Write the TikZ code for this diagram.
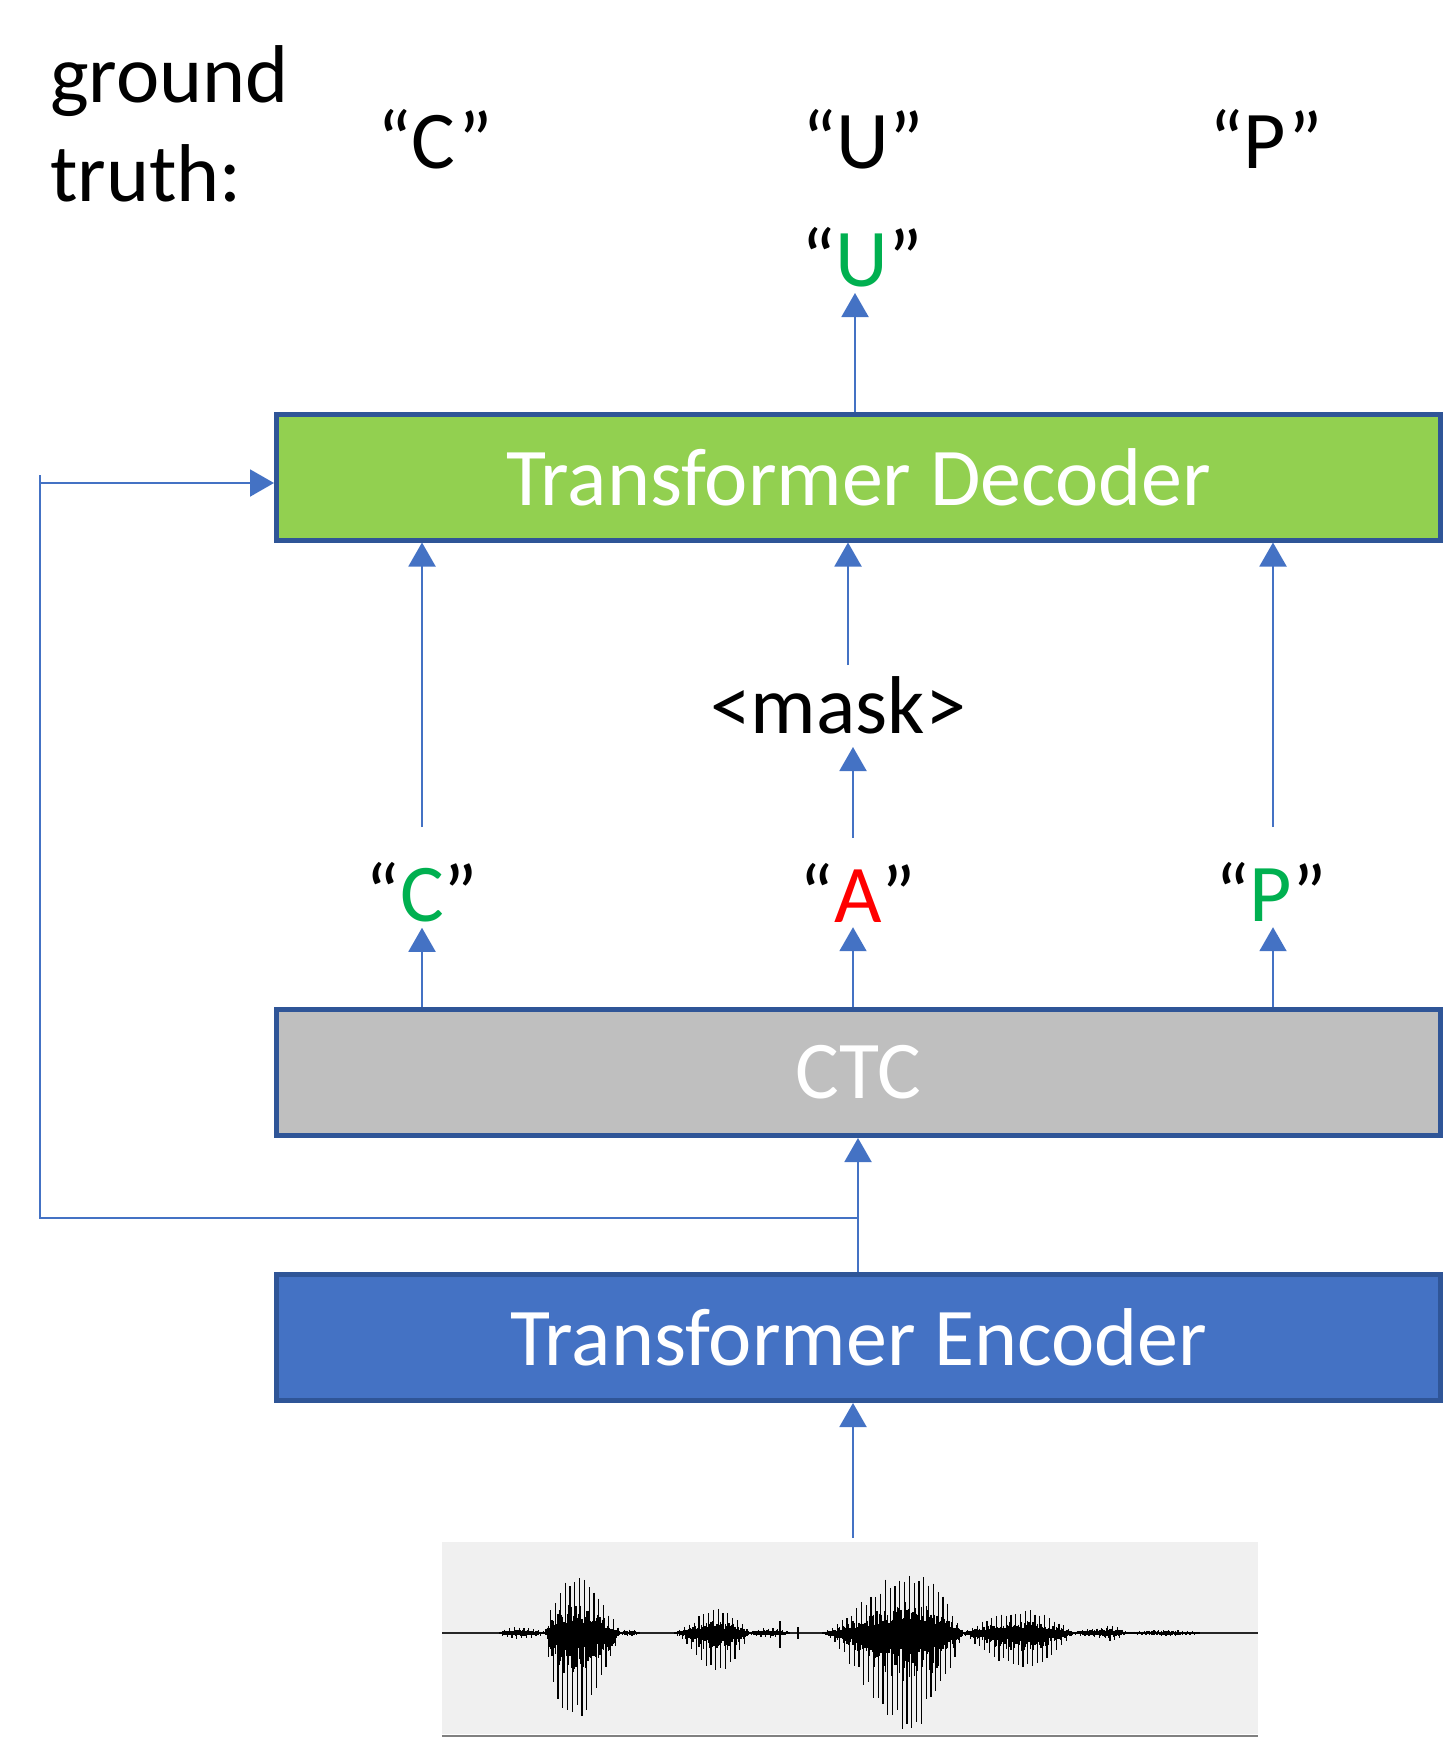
\documentclass[tikz,border=0pt]{standalone}
\usepackage{fontspec}
\setmainfont{Carlito}
\usetikzlibrary{arrows.meta,calc}
\definecolor{arrblue}{HTML}{4472C4}
\definecolor{boxborder}{HTML}{2F5597}
\definecolor{decgreen}{HTML}{92D050}
\definecolor{ctcgray}{HTML}{BFBFBF}
\definecolor{okgreen}{HTML}{00B050}
\definecolor{badred}{HTML}{FF0000}
\definecolor{wavebg}{HTML}{F0F0F0}
\newcommand\wavburst[5]{%
  \pgfmathsetmacro\wbn{int((#2-#1)/1.2)}%
  \foreach \k in {0,...,\wbn}{%
    \pgfmathsetmacro\wx{#1+\k*1.2}%
    \pgfmathsetmacro\wt{(\wx-#1+0.5)/(#2-#1+1)}%
    \pgfmathsetmacro\we{sin(180*(\wt)^(#5))}%
    \pgfmathsetmacro\wu{#3*\we*(mod(\k,4)==0 ? (0.75+0.25*rnd) : 0.15+0.35*rnd)}%
    \pgfmathsetmacro\wd{#4*\we*(mod(\k+2,4)==0 ? (0.75+0.25*rnd) : 0.15+0.35*rnd)}%
    \draw[wave] (\wx,1633-\wu-1) -- (\wx,1633+\wd+1);
  }}
\begin{document}
\begin{tikzpicture}[x=1pt,y=-1pt,
  arr/.style={draw=arrblue,line width=2pt,-{Triangle[width=27pt,length=24pt]}},
  conn/.style={draw=arrblue,line width=2pt},
  box/.style={draw=boxborder,line width=5pt,minimum width=1164pt,minimum height=126pt,inner sep=0pt,text=white,font=\fontsize{82}{98}\selectfont},
  lbl/.style={inner sep=0pt,font=\fontsize{82}{98}\selectfont},
  wave/.style={draw=black,line width=1.3pt}]
\useasboundingbox (0,0) rectangle (1444,1740);
% ground truth
\node[lbl,anchor=base west] (gt1) at (50,102) {ground};
\node[lbl,anchor=base west] (gt2) at (50,201) {truth:};
\node[lbl,anchor=base] (gtC) at (435,168) {“C”};
\node[lbl,anchor=base] (gtU) at (863,168) {“U”};
\node[lbl,anchor=base] (gtP) at (1266,168) {“P”};
% output
\node[lbl,anchor=base] (outU) at (862,286) {“\textcolor{okgreen}{U}”};
% boxes
\node[box,fill=decgreen] (dec) at (858.5,477) {Transformer Decoder};
\node[box,fill=ctcgray] (ctc) at (858.5,1072.5) {CTC};
\node[box,fill=arrblue] (enc) at (858.5,1337.5) {Transformer Encoder};
% middle labels
\node[lbl,anchor=base] (mask) at (838,733) {<mask>};
\node[lbl,anchor=base] (cC) at (422,921) {“\textcolor{okgreen}{C}”};
\node[lbl,anchor=base] (cA) at (858,922) {“\textcolor{badred}{A}”};
\node[lbl,anchor=base] (cP) at (1271,921) {“\textcolor{okgreen}{P}”};
% waveform
\node[fill=wavebg,inner sep=0pt,minimum width=816pt,minimum height=192pt] (wav) at (850,1638) {};
\draw[draw=gray,line width=2pt] (wav.south west) ++(0,2) -- ++(816,0);
\draw[draw=black!85,line width=1.8pt] (442,1633) -- (1258,1633);
\pgfmathsetseed{11}
\wavburst{500}{546}{5}{5}{0.8}
\wavburst{546}{620}{58}{92}{0.75}
\wavburst{620}{640}{3}{3}{1}
\wavburst{675}{749}{24}{38}{1.3}
\wavburst{749}{790}{4}{4}{1}
\draw[wave] (780,1621) -- (780,1648);
\draw[wave] (798,1627) -- (798,1639);
\wavburst{823}{963}{62}{97}{1.4}
\wavburst{963}{1073}{23}{35}{1.1}
\wavburst{1073}{1130}{4}{4}{1}
\wavburst{1098}{1125}{7}{7}{1}
\wavburst{1130}{1200}{2}{2}{1}
% arrows
\coordinate (tailC) at (422,827);
\coordinate (tailM) at (848,665);
\coordinate (tailP) at (1273,827);
\coordinate (tailA) at (853,838);
\coordinate (tipU) at (855,293);
\coordinate (tipM) at (853,747);
\coordinate (fbR) at (858,1218);
\coordinate (fbBL) at (40,1218);
\coordinate (fbTL) at (40,483);
\coordinate (fbTop) at (40,475);
\coordinate (tailW) at (853,1538);
\draw[arr] (dec.north -| tipU) -- (tipU);
\draw[arr] (tailC) -- (tailC |- dec.south);
\draw[arr] (tailM) -- (tailM |- dec.south);
\draw[arr] (tailP) -- (tailP |- dec.south);
\draw[arr] (tailA) -- (tipM);
\draw[arr] (ctc.north -| tailC) -- ($(cC.south -| tailC)+(0,6)$);
\draw[arr] (ctc.north -| tipM) -- ($(cA.south -| tipM)+(0,5)$);
\draw[arr] (ctc.north -| tailP) -- ($(cP.south -| tailP)+(0,6)$);
\draw[arr] (enc.north -| fbR) -- (ctc.south -| fbR);
\draw[conn] (fbR) -- (fbBL) -- (fbTop);
\draw[arr] (fbTL) -- (fbTL -| dec.west);
\draw[arr] (tailW) -- (tailW |- enc.south);
\end{tikzpicture}
\end{document}
